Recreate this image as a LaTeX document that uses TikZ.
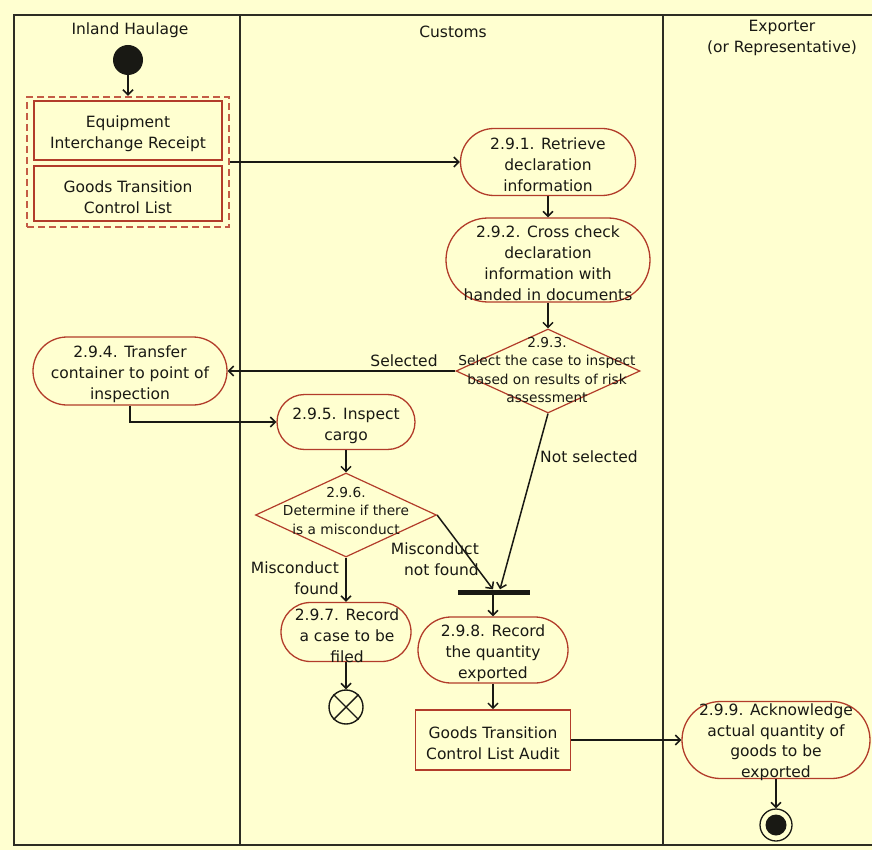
\documentclass[tikz,border=0pt]{standalone}
\usepackage{fontspec}
\setmainfont{DejaVu Sans}
\usetikzlibrary{shapes.misc,shapes.geometric,arrows.meta}
\definecolor{paper}{RGB}{255,255,208}
\definecolor{edgered}{RGB}{178,60,42}
\definecolor{groupred}{RGB}{196,92,70}
\definecolor{ink}{RGB}{25,25,20}
\definecolor{lane}{RGB}{45,45,35}

\begin{document}
\begin{tikzpicture}[x=1pt,y=-1pt,
  every node/.style={text=ink},
  txt/.style={align=center,inner sep=0pt,font=\fontsize{15.5}{21}\selectfont},
  dtxt/.style={align=center,inner sep=0pt,font=\fontsize{13.7}{18.5}\selectfont},
  lbl/.style={inner sep=0pt,font=\fontsize{15.5}{21}\selectfont},
  actbox/.style={rounded rectangle,draw=edgered,line width=1.3pt,fill=paper,inner sep=0pt},
  objbox/.style={rectangle,draw=edgered,line width=1.6pt,fill=paper,inner sep=0pt},
  decbox/.style={diamond,draw=edgered,line width=1.2pt,fill=paper,inner sep=0pt},
  flow/.style={draw=ink,line width=1.5pt,-{Straight Barb[length=5pt,width=10pt,line width=1.5pt]}},
  swim/.style={draw=lane,line width=2pt}
]

\fill[paper] (0,0) rectangle (872,850);
\useasboundingbox (0,0) rectangle (872,850);

% swimlanes
\draw[swim] (872,15) -- (14,15) -- (14,845) -- (872,845);
\draw[swim] (240,15) -- (240,845);
\draw[swim] (663,15) -- (663,845);
\node[lbl] (hInland) at (130,30) {Inland Haulage};
\node[lbl] (hCustoms) at (453,32) {Customs};
\node[lbl,align=center] (hExporter) at (782,38) {Exporter\\(or Representative)};

% Inland Haulage
\node[circle,fill=ink,minimum size=30pt,inner sep=0pt] (start) at (128,60) {};
\node[rectangle,draw=groupred,line width=2.4pt,dash pattern=on 7pt off 4pt,
      minimum width=202pt,minimum height=130pt,inner sep=0pt] (grp) at (128,162) {};
\node[objbox,minimum width=188pt,minimum height=59pt] (eir) at (128,130.5) {};
\node[txt] (eirT) at (128,134) {Equipment\\Interchange Receipt};
\node[objbox,minimum width=188pt,minimum height=55pt] (gtcl) at (128,193.5) {};
\node[txt] (gtclT) at (128,197) {Goods Transition\\Control List};
\node[actbox,minimum width=194pt,minimum height=68pt] (a4) at (130,371) {};
\node[txt] (a4T) at (130,374) {2.9.4. Transfer\\container to point of\\inspection};

% Customs
\node[actbox,minimum width=175pt,minimum height=67pt] (a1) at (548,162) {};
\node[txt] (a1T) at (548,165) {2.9.1. Retrieve\\declaration\\information};
\node[actbox,minimum width=204pt,minimum height=84pt] (a2) at (548,260) {};
\node[txt] (a2T) at (548,263) {2.9.2. Cross check\\declaration\\information with\\handed in documents};
\node[decbox,minimum width=184pt,minimum height=84pt] (d3) at (548,371) {};
\node[dtxt] (d3T) at (547,370) {2.9.3.\\Select the case to inspect\\based on results of risk\\assessment};
\node[actbox,minimum width=138pt,minimum height=55pt] (a5) at (346,422) {};
\node[txt] (a5T) at (346,426) {2.9.5. Inspect\\cargo};
\node[decbox,minimum width=181pt,minimum height=84pt] (d6) at (346,515) {};
\node[dtxt] (d6T) at (346,511) {2.9.6.\\Determine if there\\is a misconduct};
\node[actbox,minimum width=130pt,minimum height=59pt] (a7) at (346,632) {};
\node[txt] (a7T) at (347,636) {2.9.7. Record\\a case to be\\filed};
\node[circle,draw=ink,line width=1.4pt,fill=paper,minimum size=34pt,inner sep=0pt] (ff) at (346,707) {};
\draw[ink,line width=1.4pt] (ff.north east) -- (ff.south west) (ff.north west) -- (ff.south east);
\node[rectangle,fill=ink,minimum width=72pt,minimum height=5pt,inner sep=0pt] (bar) at (494,592) {};
\node[actbox,minimum width=150pt,minimum height=66pt] (a8) at (493,650) {};
\node[txt] (a8T) at (493,653) {2.9.8. Record\\the quantity\\exported};
\node[objbox,minimum width=155pt,minimum height=60pt] (audit) at (493,740) {};
\node[txt] (auditT) at (493,743) {Goods Transition\\Control List Audit};

% Exporter
\node[actbox,minimum width=188pt,minimum height=77pt] (a9) at (776,740) {};
\node[txt,font=\fontsize{15.5}{20.5}\selectfont] (a9T) at (776,742) {2.9.9. Acknowledge\\actual quantity of\\goods to be\\exported};
\node[circle,draw=ink,line width=1.3pt,fill=paper,minimum size=32pt,inner sep=0pt] (fin) at (776,825) {};
\fill[ink] (fin.center) circle (10.5);

% flows
\draw[flow] (start) -- (grp.north);
\draw[flow] (grp.east) -- (a1.west);
\draw[flow] (a1.south) -- (a2.north);
\draw[flow] (a2.south) -- (d3.north);
\draw[flow] (d3.west) -- (a4.east);
\draw[flow] (a4.south) |- (a5.west);
\draw[flow] (a5.south) -- (d6.north);
\draw[flow] (d6.south) -- (a7.north);
\draw[flow] (a7.south) -- (ff.north);
\draw[flow] (d6.east) -- ([xshift=-1pt]bar.north);
\draw[flow] (d3.south) -- ([xshift=6pt]bar.north);
\draw[flow] (bar.south -| a8.north) -- (a8.north);
\draw[flow] (a8.south) -- (audit.north);
\draw[flow] (audit.east) -- (a9.west);
\draw[flow] (a9.south) -- (fin.north);

% guard labels
\node[lbl] (lSel) at (404,361) {Selected};
\node[lbl,anchor=west] (lNot) at (540,457) {Not selected};
\node[lbl,align=right,anchor=east] (lFound) at (339,578) {Misconduct\\found};
\node[lbl,align=right,anchor=east] (lNotFound) at (479,559) {Misconduct\\not found};

\end{tikzpicture}
\end{document}
